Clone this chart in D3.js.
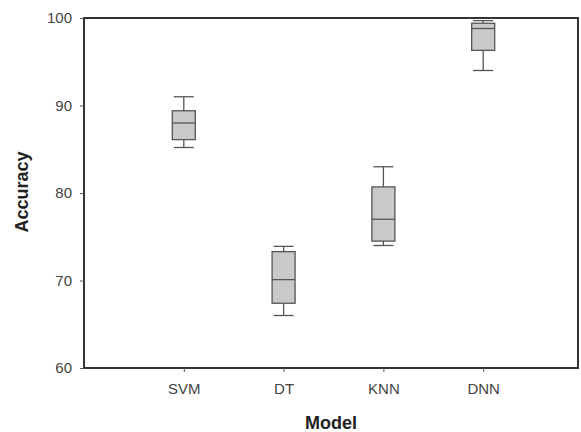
<!DOCTYPE html>
<html><head><meta charset="utf-8">
<script src="https://cdn.jsdelivr.net/npm/d3@7/dist/d3.min.js"></script>
<style>body{margin:0;background:#fff}svg{display:block;font-family:"Liberation Sans",Arial,sans-serif}</style>
</head><body>
<script>
const categories = ["SVM","DT","KNN","DNN"];
const whiskerLow  = [85.2, 66.0, 74.0, 94.0];
const q1          = [86.1, 67.4, 74.5, 96.3];
const median      = [88.0, 70.1, 77.0, 98.8];
const q3          = [89.4, 73.3, 80.7, 99.4];
const whiskerHigh = [91.0, 73.9, 83.0, 99.7];
const yTicks = [60,70,80,90,100];

const W=581,H=432;
const m={left:84,top:18,right:3,bottom:64};
const svg=d3.select("body").append("svg").attr("width",W).attr("height",H);
const x=d3.scaleLinear().domain([0,4.95]).range([m.left,W-m.right]);
const y=d3.scaleLinear().domain([60,100]).range([H-m.bottom,m.top]);

const data=categories.map((c,i)=>({c,i:i+1,lo:whiskerLow[i],q1:q1[i],med:median[i],q3:q3[i],hi:whiskerHigh[i]}));
const bw=23, cw=20;
const g=svg.append("g");
const bx=g.selectAll("g.box").data(data).join("g");
bx.append("line").attr("x1",d=>x(d.i)).attr("x2",d=>x(d.i)).attr("y1",d=>y(d.lo)).attr("y2",d=>y(d.hi)).attr("stroke","#555").attr("stroke-width",1.3);
bx.append("line").attr("x1",d=>x(d.i)-cw/2).attr("x2",d=>x(d.i)+cw/2).attr("y1",d=>y(d.lo)).attr("y2",d=>y(d.lo)).attr("stroke","#555").attr("stroke-width",1.3);
bx.append("line").attr("x1",d=>x(d.i)-cw/2).attr("x2",d=>x(d.i)+cw/2).attr("y1",d=>y(d.hi)).attr("y2",d=>y(d.hi)).attr("stroke","#555").attr("stroke-width",1.3);
bx.append("rect").attr("x",d=>x(d.i)-bw/2).attr("width",bw).attr("y",d=>y(d.q3)).attr("height",d=>y(d.q1)-y(d.q3)).attr("fill","#c9c9c9").attr("stroke","#555").attr("stroke-width",1.3);
bx.append("line").attr("x1",d=>x(d.i)-bw/2).attr("x2",d=>x(d.i)+bw/2).attr("y1",d=>y(d.med)).attr("y2",d=>y(d.med)).attr("stroke","#555").attr("stroke-width",1.3);

// frame
svg.append("rect").attr("x",x(0)).attr("y",y(100)).attr("width",x(4.95)-x(0)).attr("height",y(60)-y(100)).attr("fill","none").attr("stroke","#333").attr("stroke-width",2);

const yAxis=svg.append("g").attr("transform",`translate(${m.left},0)`).call(d3.axisLeft(y).tickValues(yTicks).tickSize(4).tickPadding(8));
const xAxis=svg.append("g").attr("transform",`translate(0,${H-m.bottom})`).call(d3.axisBottom(x).tickValues([1,2,3,4]).tickFormat((d,i)=>categories[i]).tickSize(4).tickPadding(11));
[yAxis,xAxis].forEach(a=>{a.select(".domain").remove();a.selectAll("line").attr("stroke","#555");a.selectAll("text").attr("font-size",15).attr("fill","#444").attr("font-family","Liberation Sans, Arial, sans-serif");});

svg.append("text").attr("x",(x(0)+x(4.95))/2).attr("y",429).attr("text-anchor","middle").attr("font-size",18).attr("font-weight","bold").attr("fill","#222").text("Model");
svg.append("text").attr("transform","translate(28,192) rotate(-90)").attr("text-anchor","middle").attr("font-size",18).attr("font-weight","bold").attr("fill","#222").text("Accuracy");
</script>
</body></html>
